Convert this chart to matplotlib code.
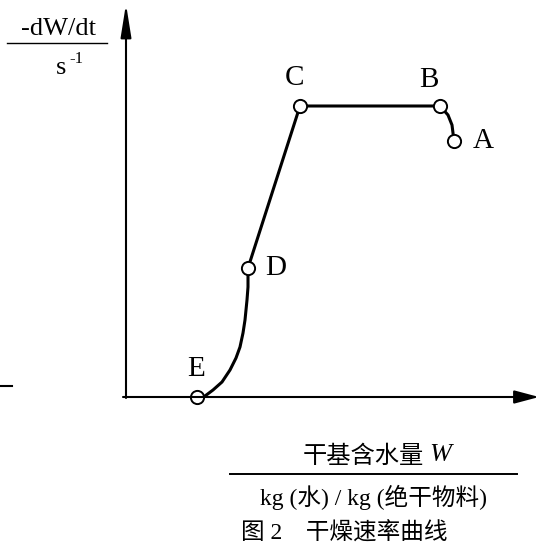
import numpy as np
from matplotlib import pyplot as plt

plt.rcParams['font.family'] = ['Liberation Serif', 'Noto Sans CJK SC']

# drying-rate curve (arbitrary units)
W = [0.71, 0.79, 0.87, 0.96, 1.04, 1.10, 1.14, 1.17, 1.19, 1.21, 1.22, 1.22,
     1.74, 3.14, 3.22, 3.26, 3.27, 3.28]
R = [0.00, 0.01, 0.07, 0.15, 0.27, 0.39, 0.50, 0.64, 0.77, 0.97, 1.10, 1.29,
     2.91, 2.91, 2.82, 2.72, 2.64, 2.56]

pt_names = ['A', 'B', 'C', 'D', 'E']
pt_W = [3.28, 3.14, 1.74, 1.22, 0.71]
pt_R = [2.56, 2.91, 2.91, 1.29, 0.00]
pt_off = [(21, 0), (-8, 19), (-4, 20), (20, 0), (-1, 20)]

fig = plt.figure(figsize=[5.39, 5.49], dpi=100)
ax = fig.add_axes([0, 0, 1, 1])
ax.set_xlim(-1.26, 4.13)
ax.set_ylim(-1.52, 3.97)
ax.axis('off')

# axes with arrows
ax.annotate('', xy=(4.13, 0), xytext=(-0.03, 0),
            arrowprops=dict(arrowstyle='-|>,head_length=0.75,head_width=0.2',
                            mutation_scale=20, lw=1.5, color='k',
                            shrinkA=0, shrinkB=0))
ax.annotate('', xy=(0, 3.93), xytext=(0, -0.01),
            arrowprops=dict(arrowstyle='-|>,head_length=1.0,head_width=0.16',
                            mutation_scale=20, lw=1.5, color='k',
                            shrinkA=0, shrinkB=0))

ax.plot(W, R, color='k', lw=2.2, solid_capstyle='round')
ax.plot(pt_W, pt_R, ls='none', marker='o', ms=9.5, mfc='white', mec='k', mew=1.4)
for name, w, r, off in zip(pt_names, pt_W, pt_R, pt_off):
    ax.annotate(name, xy=(w, r), xytext=off, textcoords='offset points',
                ha='center', va='center', fontsize=21)

# y label as fraction
fig.text(58 / 539, 1 - 29 / 549, '-dW/dt', ha='center', va='center', fontsize=19)
fig.add_artist(plt.Line2D([7 / 539, 107 / 539], [1 - 43 / 549, 1 - 43 / 549],
                          color='k', lw=1.0))
fig.text(61 / 539, 1 - 68 / 549, 's', ha='center', va='center', fontsize=19)
fig.text(76 / 539, 1 - 59 / 549, '-1', ha='center', va='center', fontsize=12)

# stray mark at the left edge
fig.add_artist(plt.Line2D([0, 12 / 539], [1 - 386 / 549, 1 - 386 / 549],
                          color='k', lw=1.5))

# x label as fraction
fig.text(424 / 539, 1 - 457 / 549, '干基含水量', ha='right', va='center',
         fontsize=17.5)
fig.text(429 / 539, 1 - 455 / 549, 'W', ha='left', va='center', fontsize=19,
         style='italic')
fig.add_artist(plt.Line2D([230 / 539, 517 / 539], [1 - 474 / 549, 1 - 474 / 549],
                          color='k', lw=1.4))
fig.text(373 / 539, 1 - 497 / 549, 'kg (水) / kg (绝干物料)', ha='center',
         va='center', fontsize=17)
fig.text(344 / 539, 1 - 533 / 549, '图 2    干燥速率曲线', ha='center',
         va='center', fontsize=17)

plt.savefig('out.png', dpi=100)
